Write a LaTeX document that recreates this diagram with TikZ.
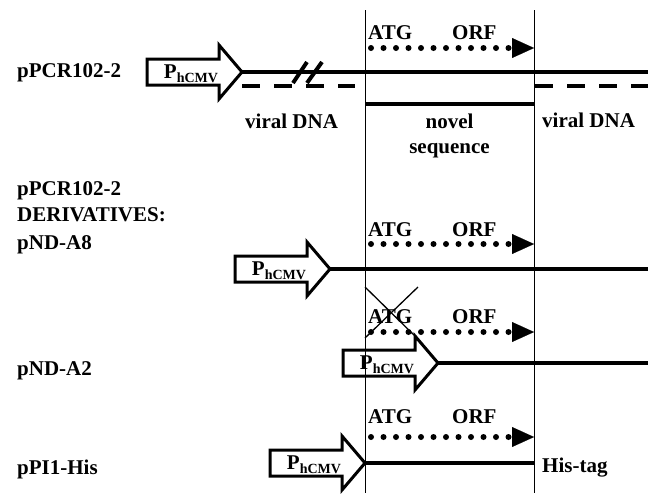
\documentclass[tikz,border=0pt]{standalone}
\usepackage{fontspec}
\setmainfont{Liberation Serif}
\usetikzlibrary{arrows.meta}

\begin{document}
\begin{tikzpicture}[x=1pt, y=-1pt,
    every node/.style={font=\fontsize{21}{25}\selectfont\bfseries, inner sep=0pt},
    dna/.style={line width=4pt},
    viral/.style={line width=4pt, dash pattern=on 18pt off 14pt},
    orf/.style={line width=6pt, line cap=round, dash pattern=on 0pt off 12.5pt,
        -{Triangle[length=22pt 0 0, width=20pt 0 0, line width=0.1pt]}},
    border/.style={line width=0.8pt},
    promoter/.pic={
        \draw[line width=3pt, line join=miter] (-95,-13) -- (-23,-13) -- (-23,-27)
            -- (0,0) -- (-23,27) -- (-23,13) -- (-95,13) -- cycle;
        \node[anchor=base] at (-51,6) {P\raisebox{-4pt}{\fontsize{14}{14}\selectfont hCMV}};
        \coordinate (-tip) at (0,0);
    }]
    \useasboundingbox (0,0) rectangle (653,493);

    % Borders of the novel sequence
    \coordinate (topL) at (365,10);
    \coordinate (botL) at (365,493);
    \coordinate (topR) at (534,10);
    \coordinate (botR) at (534,493);
    \draw[border] (topL) -- (botL);
    \draw[border] (topR) -- (botR);

    % pPCR102-2
    \node[anchor=base west] (pcr) at (17,77) {pPCR102-2};
    \pic (pA) at (242,72) {promoter};
    \coordinate (endA) at (648,72);
    \draw[dna] (pA-tip) -- (endA);
    \draw[viral] (242,86) -- (355,86); % viral DNA, left
    \draw[viral] (535,86) -- (648,86); % viral DNA, right
    \draw[line width=4pt] (293,83) -- (307,62);
    \draw[line width=4pt] (307,83) -- (322,62);
    \draw[dna] (365,104) -- (534,104); % novel sequence
    \node[anchor=base west] (atgA) at (368,39) {ATG};
    \node[anchor=base west] (orfA) at (452,39) {ORF};
    \draw[orf] (371,48) -- (534,48);
    \node[anchor=base west] (virL) at (245,128) {viral DNA};
    \node[anchor=base west] (virR) at (542,127) {viral DNA};
    \node[anchor=base] (novel) at (449.5,128) {novel};
    \node[anchor=base] (seq) at (449.5,153) {sequence};

    % Derivatives
    \node[anchor=base west] (pcrB) at (17,195) {pPCR102-2};
    \node[anchor=base west] (deriv) at (17,221) {DERIVATIVES:};

    % pND-A8
    \node[anchor=base west] (ndA8) at (17,249) {pND-A8};
    \node[anchor=base west] (atgB) at (368,236) {ATG};
    \node[anchor=base west] (orfB) at (452,236) {ORF};
    \draw[orf] (371,244) -- (534,244);
    \pic (pB) at (330,269) {promoter};
    \coordinate (endB) at (648,269);
    \draw[dna] (pB-tip) -- (endB);

    % pND-A2
    \node[anchor=base west] (ndA2) at (17,375) {pND-A2};
    \node[anchor=base west] (atgC) at (368,323) {ATG};
    \node[anchor=base west] (orfC) at (452,323) {ORF};
    \draw[orf] (371,332) -- (534,332);
    \draw[line width=1.3pt] (365,287) -- (417,338);
    \draw[line width=1.3pt] (418,287) -- (365,338);
    \pic (pC) at (438,363) {promoter};
    \coordinate (endC) at (648,363);
    \draw[dna] (pC-tip) -- (endC);

    % pPI1-His
    \node[anchor=base west] (pi1) at (17,474) {pPI1-His};
    \node[anchor=base west] (atgD) at (368,423) {ATG};
    \node[anchor=base west] (orfD) at (452,423) {ORF};
    \draw[orf] (371,437) -- (534,437);
    \pic (pD) at (365,463) {promoter};
    \coordinate (endD) at (534,463);
    \draw[dna] (pD-tip) -- (endD);
    \node[anchor=base west] (his) at (542,472) {His-tag};
\end{tikzpicture}
\end{document}
